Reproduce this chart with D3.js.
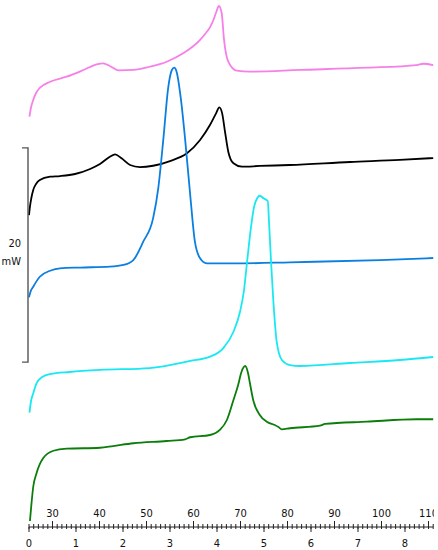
<!DOCTYPE html>
<html>
<head>
<meta charset="utf-8">
<script src="https://cdn.jsdelivr.net/npm/d3@7"></script>
<style>
	body { margin: 0; background: #fff; }
	text { font-family: "DejaVu Sans Condensed", "DejaVu Sans", Verdana, sans-serif; font-size: 11px; fill: #111; }
</style>
</head>
<body>
<svg id="chart" width="438" height="550"></svg>
<script>
// time (min) and heat flow (mW, stacked with offsets)
const pinkCurve = [[0.01,38.11],[0.04,38.92],[0.09,39.67],[0.15,40.32],[0.23,40.79],[0.45,41.37],[0.80,41.84],[1.16,42.47],[1.44,43.00],[1.58,43.09],[1.72,42.84],[1.90,42.44],[2.22,42.47],[2.57,42.77],[2.93,43.24],[3.28,44.02],[3.64,45.27],[3.75,45.85],[3.85,46.45],[3.93,47.20],[3.99,47.95],[4.04,48.44],[4.10,47.76],[4.15,45.27],[4.24,43.24],[4.42,42.40],[4.70,42.31],[5.77,42.47],[7.19,42.68],[8.25,42.93],[8.39,43.05],[8.60,42.93]];
const blackCurve = [[0.00,28.93],[0.02,29.71],[0.05,30.52],[0.09,31.27],[0.15,31.83],[0.23,32.20],[0.45,32.51],[0.66,32.57],[0.98,32.76],[1.30,33.23],[1.51,33.69],[1.72,34.37],[1.83,34.60],[1.97,34.22],[2.15,33.60],[2.36,33.41],[2.64,33.53],[3.00,33.97],[3.36,34.69],[3.64,35.93],[3.85,37.33],[3.98,38.42],[4.05,38.98],[4.11,38.42],[4.17,36.71],[4.24,34.84],[4.35,33.76],[4.53,33.44],[4.91,33.51],[5.55,33.60],[6.83,33.88],[7.89,34.07],[8.60,34.25]];
const blueCurve = [[0.00,21.25],[0.03,21.75],[0.09,22.24],[0.23,23.17],[0.45,23.73],[0.66,23.96],[1.09,24.03],[1.72,24.11],[2.01,24.27],[2.22,24.73],[2.43,26.44],[2.64,28.62],[2.75,31.42],[2.86,36.09],[2.96,40.76],[3.04,42.47],[3.09,42.68],[3.14,42.31],[3.23,39.82],[3.32,36.09],[3.43,30.80],[3.53,26.44],[3.64,24.89],[3.78,24.42],[4.56,24.42],[5.55,24.52],[7.47,24.73],[8.60,24.92]];
const cyanCurve = [[0.01,10.48],[0.04,11.48],[0.09,12.29],[0.16,13.22],[0.28,13.81],[0.45,14.09],[0.87,14.28],[1.51,14.47],[2.57,14.65],[3.43,15.31],[3.85,15.71],[4.13,16.49],[4.35,18.04],[4.49,19.91],[4.57,21.77],[4.64,24.57],[4.72,27.69],[4.79,29.71],[4.86,30.55],[4.91,30.73],[4.99,30.49],[5.08,30.24],[5.11,28.00],[5.15,24.57],[5.20,20.84],[5.27,17.11],[5.38,15.40],[5.55,14.93],[5.77,14.84],[6.83,15.12],[7.89,15.40],[8.60,15.68]];
const greenCurve = [[0.02,0.37],[0.05,1.87],[0.09,3.57],[0.16,4.83],[0.30,6.23],[0.52,6.93],[0.80,7.12],[1.51,7.21],[1.79,7.37],[2.22,7.63],[2.93,7.84],[3.32,8.00],[3.43,8.19],[3.85,8.40],[4.06,8.87],[4.21,9.80],[4.35,11.67],[4.45,13.07],[4.52,14.28],[4.60,14.84],[4.66,14.19],[4.70,13.25],[4.77,11.67],[4.91,10.27],[5.06,9.64],[5.23,9.33],[5.30,9.17],[5.38,8.93],[5.55,9.03],[6.19,9.27],[6.30,9.43],[7.19,9.64],[8.25,9.87],[8.60,9.87]];

const curves = [pinkCurve, blackCurve, blueCurve, cyanCurve, greenCurve];
const curveColors = ["#f77fe8", "#000000", "#0a7fe0", "#19e8f2", "#0b7d0b"];

const timeTicks = [0, 1, 2, 3, 4, 5, 6, 7, 8];
const tempTicks = [30, 40, 50, 60, 70, 80, 90, 100, 110];
const scaleBar = [15.2, 35.2]; // 20 mW
const scaleLabel = ["20", "mW"];

const svg = d3.select("#chart");
const axisY = 527;

const x = d3.scaleLinear().domain([0, 8.6]).range([29, 29 + 8.6 * 47]);
const temp = d3.scaleLinear().domain([25, 111]).range([x(0), x(8.6)]);
const y = d3.scaleLinear().domain([0, 49]).range([525, 0]);

const line = d3.line()
	.x((d) => x(d[0]))
	.y((d) => y(d[1]))
	.curve(d3.curveMonotoneX);

svg.selectAll(".curve")
	.data(curves)
	.enter().append("path")
	.attr("class", "curve")
	.attr("d", line)
	.attr("fill", "none")
	.attr("stroke", (d, i) => curveColors[i])
	.attr("stroke-width", 1.8)
	.attr("stroke-linejoin", "round");

// scale bar
const bar = svg.append("g")
	.attr("stroke", "#555")
	.attr("stroke-width", 1.4)
	.attr("fill", "none");
bar.append("path")
	.attr("d", "M22," + y(scaleBar[1]) + "H28V" + y(scaleBar[0]) + "H22");

const barMid = (y(scaleBar[0]) + y(scaleBar[1])) / 2;
svg.selectAll(".scale-label")
	.data(scaleLabel)
	.enter().append("text")
	.attr("class", "scale-label")
	.attr("x", 21)
	.attr("y", (d, i) => barMid - 8 + i * 18)
	.attr("text-anchor", "end")
	.text((d) => d);

// double axis: time below, temperature above
const ax = svg.append("g")
	.attr("stroke", "#222")
	.attr("stroke-width", 1);

ax.append("line")
	.attr("x1", x(0)).attr("x2", x(8.6))
	.attr("y1", axisY).attr("y2", axisY);

ax.selectAll(".minor")
	.data(d3.range(0, 8.61, 0.1))
	.enter().append("line")
	.attr("x1", (d) => x(d)).attr("x2", (d) => x(d))
	.attr("y1", axisY - 3).attr("y2", axisY + 2);

ax.selectAll(".major-time")
	.data(timeTicks)
	.enter().append("line")
	.attr("x1", (d) => x(d)).attr("x2", (d) => x(d))
	.attr("y1", axisY).attr("y2", axisY + 5);

ax.selectAll(".major-temp")
	.data(tempTicks)
	.enter().append("line")
	.attr("x1", (d) => temp(d)).attr("x2", (d) => temp(d))
	.attr("y1", axisY).attr("y2", axisY - 6);

svg.selectAll(".time-label")
	.data(timeTicks)
	.enter().append("text")
	.attr("class", "time-label")
	.attr("x", (d) => x(d))
	.attr("y", 547)
	.attr("text-anchor", "middle")
	.text((d) => d);

// the source figure is cropped just after the "11" of 110
svg.append("clipPath").attr("id", "crop")
	.append("rect").attr("x", 0).attr("y", 0).attr("width", 434).attr("height", 550);

svg.append("g")
	.attr("clip-path", "url(#crop)")
	.selectAll(".temp-label")
	.data(tempTicks)
	.enter().append("text")
	.attr("class", "temp-label")
	.attr("x", (d) => temp(d))
	.attr("y", 517)
	.attr("text-anchor", "middle")
	.text((d) => d);
</script>
</body>
</html>
